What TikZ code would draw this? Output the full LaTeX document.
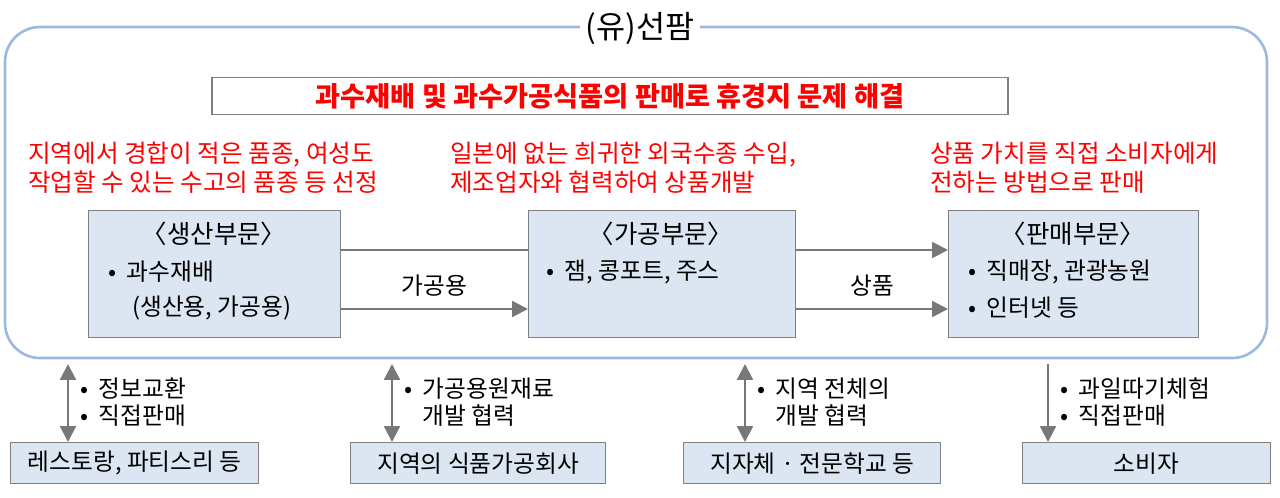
\documentclass[tikz,border=0pt]{standalone}
\usepackage{fontspec}
\setmainfont{Noto Sans CJK KR}
\usetikzlibrary{arrows.meta}
\definecolor{frameblue}{RGB}{157,185,224}
\definecolor{boxfill}{RGB}{220,230,242}
\definecolor{boxline}{RGB}{128,128,128}
\definecolor{arrgray}{RGB}{120,120,120}
\tikzset{>={Triangle[length=9pt,width=9pt]}}
\tikzset{
  part/.style={draw=boxline,thick,fill=boxfill,minimum width=#1,minimum height=2.54cm,anchor=north west,inner sep=0pt},
  party/.style={draw=boxline,thick,fill=boxfill,minimum height=0.82cm,anchor=north west,minimum width=#1,font=\fontsize{13.5}{15}\selectfont},
  redtxt/.style={text=red,anchor=north west,align=left,font=\fontsize{14}{16.5}\selectfont},
  flow/.style={arrgray,line width=1.3pt},
  note/.style={anchor=west,align=left,font=\fontsize{13.5}{15.5}\selectfont}
}
\begin{document}
\begin{tikzpicture}[x=0.02cm,y=-0.02cm]
    \useasboundingbox (0,0) rectangle (1280,497);
    \draw[frameblue,line width=1.5pt,rounded corners=0.7cm] (5,27) rectangle (1267,358);
    \node[fill=white,font=\fontsize{18}{20}\selectfont] (title) at (640,29) {(유)선팜};
    \node[draw=boxline,thick,minimum width=15.92cm,minimum height=0.74cm,text=red,
          font=\fontsize{15.5}{17}\bfseries\selectfont] (goal) at (610,96) {과수재배 및 과수가공식품의 판매로 휴경지 문제 해결};
    % red notes
    \node[redtxt] (n1) at (22,136) {지역에서 경합이 적은 품종, 여성도\\작업할 수 있는 수고의 품종 등 선정};
    \node[redtxt] (n2) at (444,136) {일본에 없는 희귀한 외국수종 수입,\\제조업자와 협력하여 상품개발};
    \node[redtxt] (n3) at (924,136) {상품 가치를 직접 소비자에게\\전하는 방법으로 판매};
    % parts
    \node[part=5.04cm] (prod) at (88,210) {};
    \node[part=5.34cm] (proc) at (528,210) {};
    \node[part=5.0cm] (sale) at (948,210) {};
    \node[font=\fontsize{14.5}{16}\selectfont] at (214,234) {〈생산부문〉};
    \node[note] at (102,272) {•~ 과수재배};
    \node[note] at (126,308) {(생산용, 가공용)};
    \node[font=\fontsize{14.5}{16}\selectfont] at (661,234) {〈가공부문〉};
    \node[note] at (540,272) {•~ 잼, 콩포트, 주스};
    \node[font=\fontsize{14.5}{16}\selectfont] at (1073,234) {〈판매부문〉};
    \node[note] at (962,272) {•~ 직매장, 관광농원};
    \node[note] at (962,308) {•~ 인터넷 등};
    % flows
    \draw[flow] (prod.north east |- 0,250) -- (proc.north west |- 0,250);
    \draw[flow,->] (prod.north east |- 0,309) -- node[above=3pt,black,font=\fontsize{13.5}{15}\selectfont] {가공용} (proc.north west |- 0,309);
    \draw[flow,->] (proc.north east |- 0,250) -- (sale.north west |- 0,250);
    \draw[flow,->] (proc.north east |- 0,309) -- node[above=3pt,black,font=\fontsize{13.5}{15}\selectfont] {상품} (sale.north west |- 0,309);
    % partners
    \node[party=4.96cm] (resto) at (10,442) {레스토랑, 파티스리 등};
    \node[party=5.1cm] (food) at (350,442) {지역의 식품가공회사};
    \node[party=5.14cm] (school) at (683,442) {지자체 · 전문학교 등};
    \node[party=4.96cm] (buyer) at (1022,442) {소비자};
    \coordinate (a1) at (68,364); \coordinate (a2) at (392,364);
    \coordinate (a3) at (745,364); \coordinate (a4) at (1048,364);
    \draw[flow,<->] (a1) -- (a1 |- resto.north);
    \draw[flow,<->] (a2) -- (a2 |- food.north);
    \draw[flow,<->] (a3) -- (a3 |- school.north);
    \draw[flow,->] (a4) -- (a4 |- buyer.north);
    \node[note] at (74,402) {•~ 정보교환\\•~ 직접판매};
    \node[note] at (398,402) {•~ 가공용원재료\\\phantom{•~ }개발 협력};
    \node[note] at (751,402) {•~ 지역 전체의\\\phantom{•~ }개발 협력};
    \node[note] at (1054,402) {•~ 과일따기체험\\•~ 직접판매};
\end{tikzpicture}
\end{document}
